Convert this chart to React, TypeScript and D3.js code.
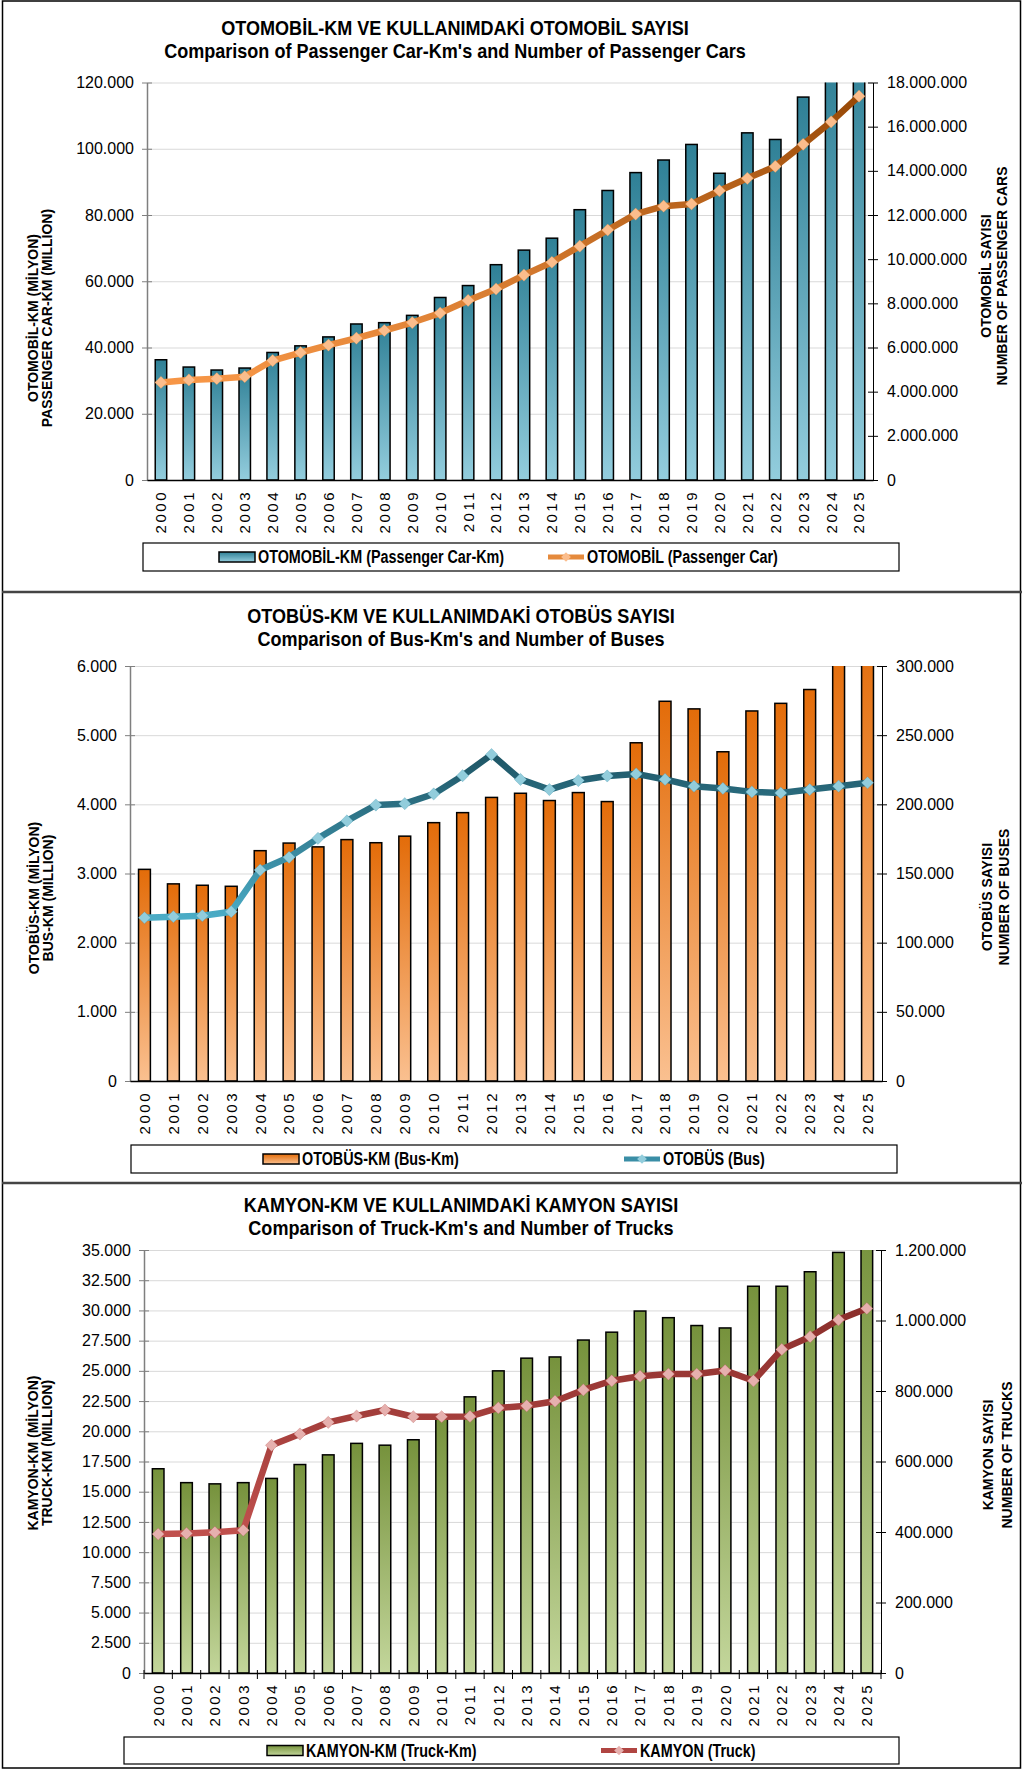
import React, { useEffect, useRef } from "react";
import * as d3 from "d3";

// years on the x axis (same for all three charts)
const years = [
  "2000", "2001", "2002", "2003", "2004", "2005", "2006", "2007", "2008", "2009", "2010", "2011", "2012",
  "2013", "2014", "2015", "2016", "2017", "2018", "2019", "2020", "2021", "2022", "2023", "2024", "2025",
];

// passenger car-km (million) and passenger car count
const carKm = [
  36300, 34100, 33200, 33800, 38500, 40500, 43200, 47100, 47500, 49700, 55100, 58700, 65000,
  69400, 73000, 81600, 87400, 92800, 96600, 101300, 92600, 104800, 102800, 115600, 125000, 130000,
];
const cars = [
  4420000, 4530000, 4590000, 4680000, 5410000, 5770000, 6110000, 6420000, 6770000, 7130000, 7560000, 8130000, 8650000,
  9280000, 9860000, 10590000, 11320000, 12040000, 12400000, 12500000, 13100000, 13660000, 14200000, 15200000, 16220000, 17380000,
];

// bus-km (million) and bus count
const busKm = [
  3060, 2850, 2830, 2815, 3330, 3440, 3385, 3490, 3445, 3540, 3735, 3880, 4100,
  4160, 4055, 4170, 4040, 4890, 5490, 5380, 4760, 5350, 5460, 5660, 6300, 6500,
];
const buses = [
  118000, 118800, 119500, 122400, 152500, 161700, 175400, 188000, 199500, 200500, 207500, 220700, 236000,
  218000, 210700, 217200, 220500, 222000, 218000, 213100, 211500, 209000, 208200, 210700, 213100, 215600,
];

// truck-km (million) and truck count
const truckKm = [
  16900, 15750, 15650, 15750, 16100, 17250, 18050, 19000, 18850, 19300, 21050, 22850, 25000,
  26050, 26150, 27550, 28200, 29950, 29400, 28750, 28550, 32000, 32000, 33200, 34800, 36500,
];
const trucks = [
  394000, 396000, 399000, 405000, 646000, 678000, 711000, 729000, 746000, 727000, 727000, 728000, 752000,
  758000, 771000, 803000, 829000, 842000, 848000, 848000, 858000, 829000, 918000, 954000, 1002000, 1034000,
];

const SANS = "'Liberation Sans', Arial, sans-serif";

const fmt = d3.formatLocale({ decimal: ",", thousands: ".", grouping: [3], currency: ["", ""] }).format(",.0f");

// squeeze text horizontally to mimic a narrow face (no Arial Narrow installed)
function narrow(sel, ratio = 0.82) {
  sel.each(function () {
    const w = this.getComputedTextLength();
    this.setAttribute("textLength", String(w * ratio));
    this.setAttribute("lengthAdjust", "spacingAndGlyphs");
  });
}

const panels = [
  {
    bars: carKm, line: cars,
    title: ["OTOMOBİL-KM VE KULLANIMDAKİ OTOMOBİL SAYISI", "Comparison of Passenger Car-Km's and Number of Passenger Cars"],
    leftTitle: ["OTOMOBİL-KM  (MİLYON)", "PASSENGER CAR-KM (MILLION)"],
    rightTitle: ["OTOMOBİL SAYISI", "NUMBER OF PASSENGER CARS"],
    legend: ["OTOMOBİL-KM (Passenger Car-Km)", "OTOMOBİL (Passenger Car)"],
    leftMax: 120000, leftStep: 20000, rightMax: 18000000, rightStep: 2000000,
    left: 147, right: 873, top: 82.5, bottom: 480,
    titleX: 455, titleY: [27, 50],
    leftTitleX: [33, 47], leftTitleY: 318, rightTitleX: [986, 1002], rightTitleY: 276,
    legBox: [143, 543, 899, 571], legSw: [219, 548],
    barTop: "#2f8096", barBottom: "#93cddd",
    lineTop: "#974806", lineBottom: "#f79646", lineMid: "#e58a3c", marker: "#fbbd8c",
    xTicks: false,
  },
  {
    bars: busKm, line: buses,
    title: ["OTOBÜS-KM VE KULLANIMDAKİ OTOBÜS SAYISI", "Comparison of Bus-Km's and Number of Buses"],
    leftTitle: ["OTOBÜS-KM (MİLYON)", "BUS-KM (MILLION)"],
    rightTitle: ["OTOBÜS SAYISI", "NUMBER OF BUSES"],
    legend: ["OTOBÜS-KM (Bus-Km)", "OTOBÜS (Bus)"],
    leftMax: 6000, leftStep: 1000, rightMax: 300000, rightStep: 50000,
    left: 130, right: 882, top: 666, bottom: 1081,
    titleX: 461, titleY: [615, 638],
    leftTitleX: [34, 48], leftTitleY: 898, rightTitleX: [987, 1004], rightTitleY: 897,
    legBox: [131, 1145, 897, 1173], legSw: [263, 624],
    barTop: "#e36c09", barBottom: "#fac090",
    lineTop: "#1e5565", lineBottom: "#4bacc6", lineMid: "#3a8ea6", marker: "#92cddc",
    xTicks: false,
  },
  {
    bars: truckKm, line: trucks,
    title: ["KAMYON-KM VE KULLANIMDAKİ KAMYON SAYISI", "Comparison of Truck-Km's and Number of Trucks"],
    leftTitle: ["KAMYON-KM (MİLYON)", "TRUCK-KM (MILLION)"],
    rightTitle: ["KAMYON SAYISI", "NUMBER OF TRUCKS"],
    legend: ["KAMYON-KM (Truck-Km)", "KAMYON (Truck)"],
    leftMax: 35000, leftStep: 2500, rightMax: 1200000, rightStep: 200000,
    left: 144, right: 881, top: 1250, bottom: 1673,
    titleX: 461, titleY: [1204, 1227],
    leftTitleX: [33, 47], leftTitleY: 1453, rightTitleX: [988, 1007], rightTitleY: 1455,
    legBox: [124, 1737, 899, 1764], legSw: [267, 601],
    barTop: "#76923c", barBottom: "#c3d69b",
    lineTop: "#8a2e2b", lineBottom: "#c0504d", lineMid: "#b04542", marker: "#e6b0ae",
    xTicks: true,
  },
];

function drawPanel(svg, defs, p, i) {
  const g = svg.append("g");

  const x = d3.scaleBand().domain(years).range([p.left, p.right]).paddingInner(0.59).paddingOuter(0.295);
  const yL = d3.scaleLinear().domain([0, p.leftMax]).range([p.bottom, p.top]);
  const yR = d3.scaleLinear().domain([0, p.rightMax]).range([p.bottom, p.top]);
  const leftTicks = d3.range(0, p.leftMax + p.leftStep / 2, p.leftStep);
  const rightTicks = d3.range(0, p.rightMax + p.rightStep / 2, p.rightStep);

  const bg = defs.append("linearGradient").attr("id", `bar${i}`).attr("x1", 0).attr("y1", 0).attr("x2", 0).attr("y2", 1);
  bg.append("stop").attr("offset", 0).attr("stop-color", p.barTop);
  bg.append("stop").attr("offset", 1).attr("stop-color", p.barBottom);
  const lg = defs.append("linearGradient").attr("id", `line${i}`).attr("x1", 0).attr("y1", 0).attr("x2", 0).attr("y2", 1);
  lg.append("stop").attr("offset", 0).attr("stop-color", p.lineTop);
  lg.append("stop").attr("offset", 1).attr("stop-color", p.lineBottom);
  defs.append("clipPath").attr("id", `clip${i}`).append("rect")
    .attr("x", p.left).attr("y", p.top).attr("width", p.right - p.left).attr("height", p.bottom - p.top);

  // titles
  p.title.forEach((t, k) => {
    g.append("text").attr("x", p.titleX).attr("y", p.titleY[k]).attr("text-anchor", "middle")
      .attr("dominant-baseline", "central").attr("font-family", SANS).attr("font-weight", "bold")
      .attr("font-size", 20.5).attr("fill", "#000").text(t)
      .call(narrow, 0.88);
  });

  // gridlines
  g.append("g").attr("transform", `translate(${p.left},0)`)
    .call(d3.axisLeft(yL).tickValues(leftTicks).tickSize(-(p.right - p.left)).tickFormat(() => ""))
    .call((a) => a.select(".domain").remove())
    .selectAll("line").attr("stroke", "#d9d9d9").attr("stroke-width", 1);

  // bars
  g.append("g").attr("clip-path", `url(#clip${i})`)
    .selectAll("rect").data(p.bars).join("rect")
    .attr("x", (d, j) => x(years[j]))
    .attr("y", (d) => yL(d))
    .attr("width", x.bandwidth())
    .attr("height", (d) => p.bottom - yL(d))
    .attr("fill", `url(#bar${i})`)
    .attr("stroke", "#000").attr("stroke-width", 1.5);

  // axes
  const la = g.append("g").attr("transform", `translate(${p.left},0)`)
    .call(d3.axisLeft(yL).tickValues(leftTicks).tickFormat(fmt).tickSize(5).tickSizeOuter(0).tickPadding(8));
  la.select(".domain").attr("stroke", "#7f7f7f").attr("stroke-width", 1.5);
  la.selectAll(".tick line").attr("x1", 5).attr("stroke", "#7f7f7f");
  la.selectAll("text").attr("font-family", SANS).attr("font-size", 16).attr("fill", "#000");

  const ra = g.append("g").attr("transform", `translate(${p.right},0)`)
    .call(d3.axisRight(yR).tickValues(rightTicks).tickFormat(fmt).tickSize(5).tickSizeOuter(0).tickPadding(9));
  ra.select(".domain").attr("stroke", "#000").attr("stroke-width", 1);
  ra.selectAll(".tick line").attr("x1", -5).attr("stroke", "#000");
  ra.selectAll("text").attr("font-family", SANS).attr("font-size", 16).attr("fill", "#000");

  const ba = g.append("g").attr("transform", `translate(0,${p.bottom})`)
    .call(d3.axisBottom(x).tickSize(0).tickSizeOuter(0));
  ba.select(".domain").attr("stroke", "#000").attr("stroke-width", 1.5);
  ba.selectAll("text")
    .attr("transform", "rotate(-90)")
    .attr("x", -10).attr("y", 0).attr("dy", "0.36em")
    .attr("text-anchor", "end")
    .attr("font-family", SANS).attr("font-size", 15).attr("letter-spacing", 2.5).attr("fill", "#000");

  if (p.xTicks) {
    g.append("g").selectAll("line").data(d3.range(years.length + 1)).join("line")
      .attr("x1", (j) => p.left + j * x.step()).attr("x2", (j) => p.left + j * x.step())
      .attr("y1", p.bottom - 3).attr("y2", p.bottom + 6)
      .attr("stroke", "#000").attr("stroke-width", 1);
  }

  // line series
  const cx = (j) => x(years[j]) + x.bandwidth() / 2;
  const lineGen = d3.line().x((d, j) => cx(j)).y((d) => yR(d));
  g.append("path").datum(p.line).attr("d", lineGen)
    .attr("fill", "none").attr("stroke", `url(#line${i})`).attr("stroke-width", 6.5)
    .attr("stroke-linejoin", "round").attr("stroke-linecap", "round");

  const diamond = d3.symbol().type(d3.symbolDiamond2).size(95);
  g.append("g").selectAll("path").data(p.line).join("path")
    .attr("d", diamond)
    .attr("transform", (d, j) => `translate(${cx(j)},${yR(d)})`)
    .attr("fill", p.marker).attr("stroke", p.lineMid).attr("stroke-opacity", 0.35).attr("stroke-width", 0.8);

  // axis titles
  const vText = (xs, yc, lines) => {
    lines.forEach((t, k) => {
      g.append("text").attr("transform", `translate(${xs[k]},${yc}) rotate(-90)`)
        .attr("text-anchor", "middle").attr("dominant-baseline", "central")
        .attr("font-family", SANS).attr("font-weight", "bold").attr("font-size", 14).attr("fill", "#000")
        .text(t);
    });
  };
  vText(p.leftTitleX, p.leftTitleY, p.leftTitle);
  vText(p.rightTitleX, p.rightTitleY, p.rightTitle);

  // legend
  const [lx0, ly0, lx1, ly1] = p.legBox;
  const mid = (ly0 + ly1) / 2;
  const leg = g.append("g");
  leg.append("rect").attr("x", lx0).attr("y", ly0).attr("width", lx1 - lx0).attr("height", ly1 - ly0)
    .attr("fill", "#fff").attr("stroke", "#000").attr("stroke-width", 1.2);
  leg.append("rect").attr("x", p.legSw[0]).attr("y", mid - 5).attr("width", 36).attr("height", 10)
    .attr("fill", `url(#bar${i})`).attr("stroke", "#000").attr("stroke-width", 1.5);
  leg.append("line").attr("x1", p.legSw[1]).attr("x2", p.legSw[1] + 36).attr("y1", mid).attr("y2", mid)
    .attr("stroke", p.lineMid).attr("stroke-width", 5);
  leg.append("path").attr("d", d3.symbol().type(d3.symbolDiamond2).size(60))
    .attr("transform", `translate(${p.legSw[1] + 18},${mid})`).attr("fill", p.marker);
  p.legend.forEach((t, k) => {
    leg.append("text").attr("x", p.legSw[k] + 39).attr("y", mid).attr("dominant-baseline", "central")
      .attr("font-family", SANS).attr("font-weight", "bold").attr("font-size", 17.5).attr("fill", "#000")
      .text(t)
      .call(narrow);
  });
}

export default function App() {
  const svgRef = useRef(null);

  useEffect(() => {
    const svg = d3.select(svgRef.current);
    svg.selectAll("*").remove();
    const defs = svg.append("defs");

    svg.append("rect").attr("x", 0).attr("y", 0).attr("width", 1022).attr("height", 1769).attr("fill", "#fff");

    panels.forEach((p, i) => drawPanel(svg, defs, p, i));

    // frame and separators
    svg.append("rect").attr("x", 2.5).attr("y", 1).attr("width", 1018).attr("height", 1767)
      .attr("fill", "none").attr("stroke", "#000").attr("stroke-width", 1.5);
    [592, 1183].forEach((y) => {
      svg.append("line").attr("x1", 2).attr("x2", 1022).attr("y1", y).attr("y2", y)
        .attr("stroke", "#444").attr("stroke-width", 2.5);
    });
  }, []);

  return (
    <svg ref={svgRef} width={1022} height={1769} style={{ position: "absolute", left: 0, top: 0, display: "block" }} />
  );
}
